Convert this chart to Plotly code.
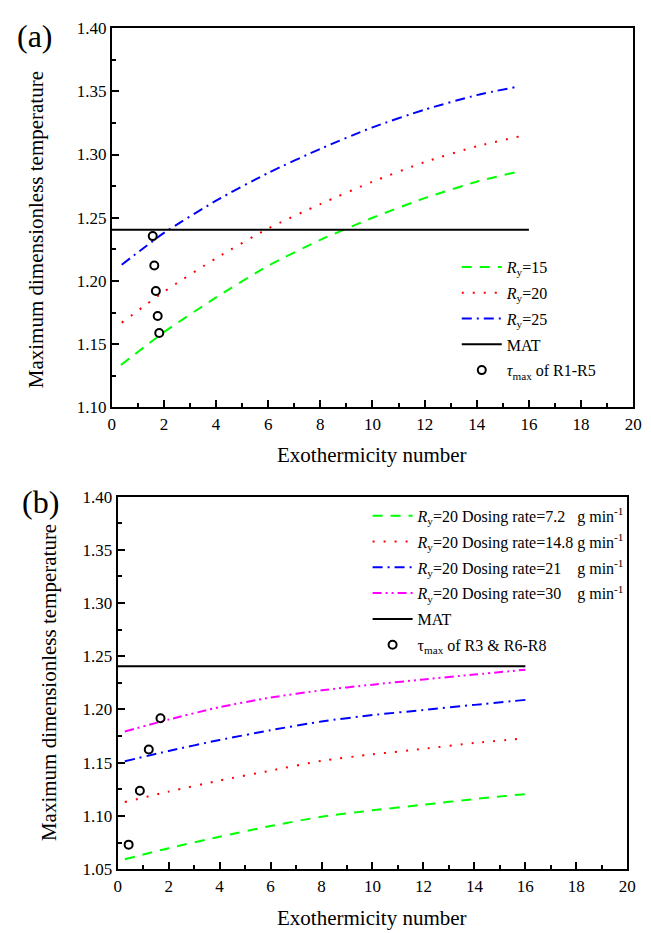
import plotly.graph_objects as go

# ---------------- Panel (a) data ----------------
a_x_ry15 = [0.35, 2, 4, 6, 8, 10, 12, 14, 15.45]
a_y_ry15 = [1.1335, 1.1595, 1.187, 1.212, 1.2325, 1.250, 1.2655, 1.2785, 1.2858]

a_x_ry20 = [0.38, 2, 4, 6, 8, 10, 12, 14, 15.66]
a_y_ry20 = [1.167, 1.1915, 1.218, 1.2415, 1.2608, 1.2785, 1.294, 1.3065, 1.3144]

a_x_ry25 = [0.38, 2, 4, 6, 8, 10, 12, 14, 15.54]
a_y_ry25 = [1.2128, 1.238, 1.2635, 1.2855, 1.3045, 1.3215, 1.3355, 1.347, 1.3536]

a_x_mat = [0, 16]
a_y_mat = [1.2405, 1.2405]

a_x_pts = [1.57, 1.63, 1.69, 1.76, 1.82]
a_y_pts = [1.2355, 1.2123, 1.1921, 1.1723, 1.1588]

# ---------------- Panel (b) data ----------------
b_x_72 = [0.28, 2, 4, 6, 8, 10, 12, 14, 16.18]
b_y_72 = [1.0592, 1.0697, 1.0805, 1.0905, 1.0992, 1.1052, 1.1105, 1.1158, 1.1209]

b_x_148 = [0.28, 2, 4, 6, 8, 10, 12, 14, 15.82]
b_y_148 = [1.113, 1.1228, 1.1332, 1.1425, 1.1518, 1.1578, 1.163, 1.1685, 1.1725]

b_x_21 = [0.28, 2, 4, 6, 8, 10, 12, 14, 16]
b_y_21 = [1.1513, 1.161, 1.1713, 1.1805, 1.1887, 1.1947, 1.1995, 1.2043, 1.209]

b_x_30 = [0.28, 2, 4, 6, 8, 10, 12, 14, 16]
b_y_30 = [1.1793, 1.1905, 1.2022, 1.2112, 1.218, 1.2233, 1.2282, 1.2328, 1.2373]

b_x_mat = [0, 16]
b_y_mat = [1.2405, 1.2405]

b_x_pts = [0.43, 0.87, 1.22, 1.68]
b_y_pts = [1.073, 1.1237, 1.1624, 1.1918]

FONT = "Liberation Serif"
W, H = 651, 933
LEG_FONT = 16

fig = go.Figure()
_grp = [0]

def next_group():
    _grp[0] += 1
    return "g%d" % _grp[0]

def line(x, y, name, color, dash, xa, ya, legend):
    fig.add_trace(go.Scatter(
        x=x, y=y, mode="lines", name=name, xaxis=xa, yaxis=ya, legend=legend,
        legendgroup=next_group(),
        line=dict(color=color, width=2, dash=dash, shape="spline", smoothing=0.6)))

def mat(x, y, xa, ya, legend):
    fig.add_trace(go.Scatter(x=x, y=y, mode="lines", name="MAT", xaxis=xa, yaxis=ya,
                             legend=legend, legendgroup=next_group(),
                             line=dict(color="black", width=2)))

def pts(x, y, name, xa, ya, legend):
    fig.add_trace(go.Scatter(x=x, y=y, mode="markers", name=name, xaxis=xa, yaxis=ya,
                             legend=legend, legendgroup=next_group(),
                             marker=dict(symbol="circle-open", size=8, color="black",
                                         line=dict(width=2))))

# Panel (a)
line(a_x_ry15, a_y_ry15, "<i>R</i><sub>y</sub>=15", "#00FF00", "10px,8px", "x", "y", "legend")
line(a_x_ry20, a_y_ry20, "<i>R</i><sub>y</sub>=20", "#FF0000", "2px,9px", "x", "y", "legend")
line(a_x_ry25, a_y_ry25, "<i>R</i><sub>y</sub>=25", "#0000FF", "10px,5px,2px,5px", "x", "y", "legend")
mat(a_x_mat, a_y_mat, "x", "y", "legend")
pts(a_x_pts, a_y_pts, "<i>τ</i><sub>max</sub> of R1-R5", "x", "y", "legend")

# Panel (b)
NB = "\u00a0"
line(b_x_72, b_y_72, "<i>R</i><sub>y</sub>=20 Dosing rate=7.2" + NB * 3 + "g min<sup>-1</sup>",
     "#00FF00", "10px,8px", "x2", "y2", "legend2")
line(b_x_148, b_y_148, "<i>R</i><sub>y</sub>=20 Dosing rate=14.8" + NB + "g min<sup>-1</sup>",
     "#FF0000", "2px,9px", "x2", "y2", "legend2")
line(b_x_21, b_y_21, "<i>R</i><sub>y</sub>=20 Dosing rate=21" + NB * 4 + "g min<sup>-1</sup>",
     "#0000FF", "10px,5px,2px,5px", "x2", "y2", "legend2")
line(b_x_30, b_y_30, "<i>R</i><sub>y</sub>=20 Dosing rate=30" + NB * 4 + "g min<sup>-1</sup>",
     "#FF00FF", "9px,4px,2px,4px,2px,4px", "x2", "y2", "legend2")
mat(b_x_mat, b_y_mat, "x2", "y2", "legend2")
pts(b_x_pts, b_y_pts, "τ<sub>max</sub> of R3 &amp; R6-R8", "x2", "y2", "legend2")

def px_x(p):
    return p / W

def px_y(p):
    return 1 - p / H

axis_common = dict(
    showline=True, linecolor="black", linewidth=2, mirror=True,
    ticks="inside", ticklen=7, tickwidth=1.5, tickcolor="black",
    showgrid=False, zeroline=False,
    tickfont=dict(family=FONT, size=17, color="black"),
)

fig.update_layout(
    width=W, height=H, margin=dict(l=0, r=0, t=0, b=0),
    paper_bgcolor="white", plot_bgcolor="white",
    font=dict(family=FONT, size=17, color="black"),
    xaxis=dict(domain=[px_x(110), px_x(642)], range=[0, 20], dtick=2, anchor="y",
               minor=dict(ticks="inside", dtick=1, ticklen=4, tickwidth=1.5, tickcolor="black"),
               **axis_common),
    yaxis=dict(domain=[px_y(406.7), px_y(19.5)], range=[1.10, 1.40], dtick=0.05, tickformat=".2f",
               anchor="x",
               minor=dict(ticks="inside", dtick=0.025, ticklen=4, tickwidth=1.5, tickcolor="black"),
               **axis_common),
    xaxis2=dict(domain=[px_x(116), px_x(636)], range=[0, 20], dtick=2, anchor="y2",
                minor=dict(ticks="inside", dtick=1, ticklen=4, tickwidth=1.5, tickcolor="black"),
                **axis_common),
    yaxis2=dict(domain=[px_y(878), px_y(497.7)], range=[1.05, 1.40], dtick=0.05, tickformat=".2f",
                anchor="x2",
                minor=dict(ticks="inside", dtick=0.025, ticklen=4, tickwidth=1.5, tickcolor="black"),
                **axis_common),
    legend=dict(x=px_x(462), y=px_y(246), xanchor="left", yanchor="top", itemwidth=40,
                tracegroupgap=2,
                bgcolor="rgba(0,0,0,0)", font=dict(family=FONT, size=LEG_FONT, color="black")),
    legend2=dict(x=px_x(371), y=px_y(500), xanchor="left", yanchor="top", itemwidth=40,
                 tracegroupgap=2,
                 bgcolor="rgba(0,0,0,0)", font=dict(family=FONT, size=LEG_FONT, color="black")),
    showlegend=True,
)

ann = []
ann.append(dict(text="(a)", x=px_x(32), y=px_y(28), xref="paper", yref="paper",
                showarrow=False, font=dict(family=FONT, size=32, color="black"),
                xanchor="center", yanchor="middle"))
ann.append(dict(text="(b)", x=px_x(37), y=px_y(503), xref="paper", yref="paper",
                showarrow=False, font=dict(family=FONT, size=32, color="black"),
                xanchor="center", yanchor="middle"))
ann.append(dict(text="Maximum dimensionless temperature", x=px_x(33), y=px_y(225.5),
                xref="paper", yref="paper", textangle=-90, showarrow=False,
                font=dict(family=FONT, size=21, color="black"), xanchor="center", yanchor="middle"))
ann.append(dict(text="Maximum dimensionless temperature", x=px_x(46), y=px_y(688),
                xref="paper", yref="paper", textangle=-90, showarrow=False,
                font=dict(family=FONT, size=21, color="black"), xanchor="center", yanchor="middle"))
ann.append(dict(text="Exothermicity number", x=px_x(376), y=px_y(455),
                xref="paper", yref="paper", showarrow=False,
                font=dict(family=FONT, size=21, color="black"), xanchor="center", yanchor="middle"))
ann.append(dict(text="Exothermicity number", x=px_x(376), y=px_y(928),
                xref="paper", yref="paper", showarrow=False,
                font=dict(family=FONT, size=21, color="black"), xanchor="center", yanchor="middle"))
fig.update_layout(annotations=ann)

fig.write_html("out.html")
